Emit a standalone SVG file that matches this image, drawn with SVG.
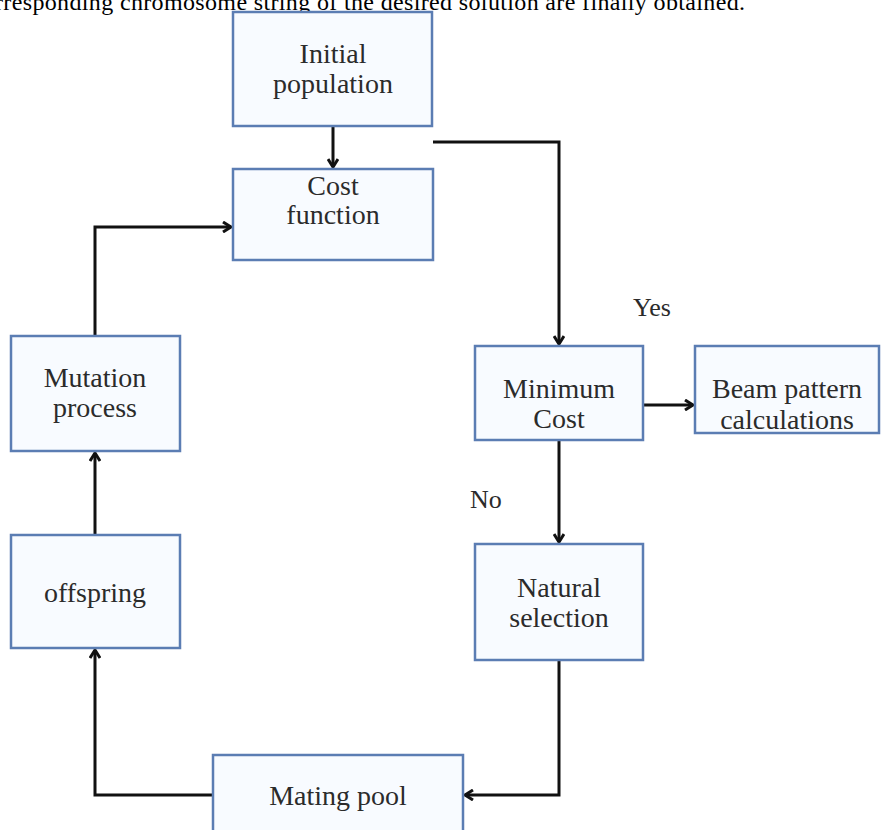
<svg xmlns="http://www.w3.org/2000/svg" width="882" height="830" viewBox="0 0 882 830">
<defs>
<style>
.box{fill:#f8fbff;stroke:#5b7db3;stroke-width:2.5}
.lbl{font-family:"Liberation Serif","Times New Roman",serif;font-size:28px;fill:#2b2b2b;text-anchor:middle}
.yn{font-family:"Liberation Serif","Times New Roman",serif;font-size:26px;fill:#2b2b2b}
.top{font-family:"Liberation Serif","Times New Roman",serif;font-size:24px;fill:#000}
.wire{fill:none;stroke:#111;stroke-width:3;marker-end:url(#ah)}
</style>
<marker id="ah" viewBox="0 0 12 12" refX="10" refY="6" markerWidth="12" markerHeight="12" markerUnits="userSpaceOnUse" orient="auto">
<path d="M2,1 L10,6 L2,11" fill="none" stroke="#111" stroke-width="3"/>
</marker>
</defs>
<rect width="882" height="830" fill="#fff"/>
<text class="top" x="-5" y="10" textLength="750" lengthAdjust="spacing">rresponding chromosome string of the desired solution are finally obtained.</text>
<g id="connectors">
<path class="wire" d="M333,127 L333,167"/>
<path class="wire" d="M433,142 L559,142 L559,344"/>
<path class="wire" d="M643,405 L693,405"/>
<path class="wire" d="M559,440 L559,542"/>
<path class="wire" d="M559,660 L559,795 L465,795"/>
<path class="wire" d="M213,795 L95,795 L95,650"/>
<path class="wire" d="M95,535 L95,453"/>
<path class="wire" d="M95,336 L95,227 L231,227"/>
</g>
<g id="initial">
<rect class="box" x="233" y="12" width="199" height="114"/>
<text class="lbl" x="333" y="63">Initial</text>
<text class="lbl" x="333" y="93">population</text>
</g>
<g id="cost">
<rect class="box" x="233" y="169" width="200" height="91"/>
<text class="lbl" x="333" y="195">Cost</text>
<text class="lbl" x="333" y="224">function</text>
</g>
<g id="minimum">
<rect class="box" x="475" y="346" width="168" height="94"/>
<text class="lbl" x="559" y="398">Minimum</text>
<text class="lbl" x="559" y="428">Cost</text>
</g>
<g id="beam">
<rect class="box" x="695" y="346" width="184" height="87"/>
<text class="lbl" x="787" y="398">Beam pattern</text>
<text class="lbl" x="787" y="429">calculations</text>
</g>
<g id="natural">
<rect class="box" x="475" y="544" width="168" height="116"/>
<text class="lbl" x="559" y="597">Natural</text>
<text class="lbl" x="559" y="627">selection</text>
</g>
<g id="mating">
<rect class="box" x="213" y="755" width="250" height="90"/>
<text class="lbl" x="338" y="805">Mating pool</text>
</g>
<g id="offspring">
<rect class="box" x="11" y="535" width="169" height="113"/>
<text class="lbl" x="95" y="602">offspring</text>
</g>
<g id="mutation">
<rect class="box" x="11" y="336" width="169" height="115"/>
<text class="lbl" x="95" y="387">Mutation</text>
<text class="lbl" x="95" y="417">process</text>
</g>
<text class="yn" x="633" y="316">Yes</text>
<text class="yn" x="470" y="508">No</text>
</svg>
